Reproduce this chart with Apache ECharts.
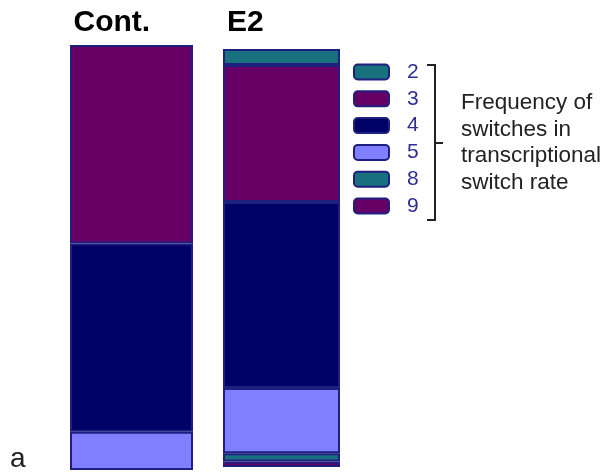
<!DOCTYPE html>
<html>
<head>
<meta charset="utf-8">
<script src="https://cdn.jsdelivr.net/npm/echarts@6/dist/echarts.min.js"></script>
<style>
  html, body { margin: 0; padding: 0; background: #fff; }
  #chart { width: 604px; height: 473px; }
</style>
</head>
<body>
<div id="chart"></div>
<script>
// Samples and switch-count categories
const categories = ['Cont.', 'E2'];
const rates = ['2', '3', '4', '5', '8', '9'];
// Share (%) of each switch count per sample, in the order of `rates`
const contValues = [0, 46.7, 44.3, 9.0, 0, 0];
const e2Values = [3.8, 32.8, 44.5, 15.6, 2.0, 1.3];
const bracketText = ['Frequency of', 'switches in', 'transcriptional', 'switch rate'];
const panelLabel = 'a';

const rateColors = {
  '2': '#19707f', '3': '#660066', '4': '#000066',
  '5': '#7f7fff', '8': '#19707f', '9': '#660066'
};
const edge = '#1f1f80';
const font = 'Liberation Sans, Arial, Helvetica, sans-serif';

const sampleValues = [contValues, e2Values];
const grids = [
  { left: 70, top: 45, width: 123, height: 425 },
  { left: 223, top: 49, width: 117, height: 418 }
];
const titleX = [73.5, 227];

// stack from the bottom up: 9, 8, 5, 4, 3, 2
const stackOrder = rates.map((r, i) => i).reverse();

const series = [];
sampleValues.forEach((vals, g) => {
  stackOrder.forEach(i => {
    const v = vals[i];
    series.push({
      name: rates[i],
      type: 'bar',
      xAxisIndex: g,
      yAxisIndex: g,
      stack: 'total' + g,
      barWidth: '100%',
      data: [v === 0 ? '-' : v],
      itemStyle: {
        color: rateColors[rates[i]],
        borderColor: edge,
        borderWidth: 2
      },
      emphasis: { disabled: true },
      animation: false
    });
  });
});

const chart = echarts.init(document.getElementById('chart'), null, { renderer: 'canvas' });
chart.setOption({
  animation: false,
  grid: grids,
  xAxis: categories.map((c, g) => ({
    type: 'category', gridIndex: g, data: [c], show: false
  })),
  yAxis: categories.map((c, g) => ({
    type: 'value', gridIndex: g, min: 0, max: 100, show: false
  })),
  legend: {
    data: rates,
    orient: 'vertical',
    left: 353,
    top: 61.5,
    padding: 0,
    itemWidth: 35,
    itemHeight: 15,
    itemGap: 5.8,
    icon: 'roundRect',
    selectedMode: false,
    itemStyle: { borderColor: edge, borderWidth: 2 },
    textStyle: {
      fontFamily: font, fontSize: 21, color: '#2e2e90',
      padding: [0, 0, 0, 13]
    }
  },
  graphic: [
    ...categories.map((c, g) => ({
      type: 'text', x: titleX[g], y: 22.5,
      style: {
        text: c, fontFamily: font, fontSize: 30, fontWeight: 'bold',
        fill: '#000', verticalAlign: 'middle', align: 'left'
      }
    })),
    {
      type: 'polyline',
      shape: { points: [[427, 65], [435, 65], [435, 220], [427, 220]] },
      style: { stroke: '#222', lineWidth: 2, fill: null }
    },
    {
      type: 'line',
      shape: { x1: 435, y1: 143, x2: 443, y2: 143 },
      style: { stroke: '#222', lineWidth: 2 }
    },
    {
      type: 'text', x: 461, y: 90,
      style: {
        text: bracketText.join('\n'), fontFamily: font, fontSize: 22.5,
        lineHeight: 26.5, fill: '#222', verticalAlign: 'top', align: 'left'
      }
    },
    {
      type: 'text', x: 10, y: 459.5,
      style: {
        text: panelLabel, fontFamily: font, fontSize: 28,
        fill: '#222', verticalAlign: 'middle', align: 'left'
      }
    }
  ],
  series: series
});
</script>
</body>
</html>
